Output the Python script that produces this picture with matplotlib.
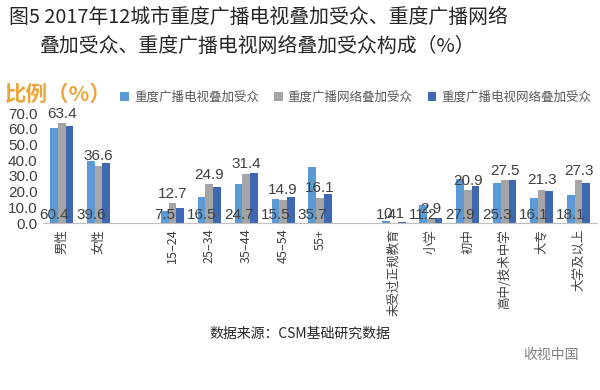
import numpy as np
import matplotlib
matplotlib.use("Agg")
import matplotlib.pyplot as plt

plt.rcParams['font.family'] = ['Noto Sans CJK SC', 'DejaVu Sans']

# categories, '' = gap slot between groups
cats = ['男性', '女性', '', '15–24', '25–34', '35–44', '45–54', '55+', '',
        '未受过正规教育', '小学', '初中', '高中/技术中学', '大专', '大学及以上']
series = ['重度广播电视叠加受众', '重度广播网络叠加受众', '重度广播电视网络叠加受众']
tv = [60.4, 39.6, np.nan, 7.5, 16.5, 24.7, 15.5, 35.7, np.nan,
      1.4, 11.2, 27.9, 25.3, 16.1, 18.1]
net = [63.4, 36.6, np.nan, 12.7, 24.9, 31.4, 14.9, 16.1, np.nan,
       0.1, 2.9, 20.9, 27.5, 21.3, 27.3]
tvnet = [62.0, 38.0, np.nan, 9.8, 23.1, 32.0, 16.3, 18.8, np.nan,
         0.4, 3.0, 23.5, 27.6, 20.5, 25.2]
colors = ['#5B9BD5', '#A5A5A5', '#3F68B3']
num_font = ['Liberation Sans', 'DejaVu Sans']

fig = plt.figure(figsize=(6, 3.9), dpi=100)
ax = fig.add_axes([0.072, 0.428, 0.923, 0.282])

x = np.arange(len(cats))
w = 0.21
for i, (vals, c) in enumerate(zip([tv, net, tvnet], colors)):
    ax.bar(x + (i - 1) * w, vals, w, color=c, label=series[i])

for xi, v in zip(x, tv):
    if not np.isnan(v):
        ax.text(xi - w, 0.6, f'{v:.1f}', ha='center', va='bottom',
                fontsize=11, color='#404040', family=num_font)
for xi, v in zip(x, net):
    if not np.isnan(v):
        ax.text(xi, v + 1.5, f'{v:.1f}', ha='center', va='bottom',
                fontsize=11, color='#404040', family=num_font)

ax.set_xlim(-0.5, len(cats) - 0.5)
ax.set_ylim(0, 70)
ax.set_yticks(range(0, 71, 10))
ax.set_yticklabels([f'{t:.1f}' for t in range(0, 71, 10)], fontsize=11,
                   color='#404040', family=num_font)
ax.set_xticks(x)
ax.set_xticklabels(cats, rotation=90, fontsize=9, color='#404040')
ax.tick_params(length=0, pad=4)
for s in ['top', 'right', 'left']:
    ax.spines[s].set_visible(False)
ax.spines['bottom'].set_color('#BFBFBF')

fig.text(0.43, 0.955, '图5 2017年12城市重度广播电视叠加受众、重度广播网络',
         ha='center', va='center', fontsize=14.3, color='#262626')
fig.text(0.43, 0.88, '叠加受众、重度广播电视网络叠加受众构成（%）',
         ha='center', va='center', fontsize=14.3, color='#262626')
fig.text(0.008, 0.757, '比例（%）', ha='left', va='center', fontsize=15.5,
         color='#EBA53C', fontweight='bold')

ax.legend(loc='lower left', bbox_to_anchor=(0.13, 1.04), ncol=3, frameon=False,
          fontsize=9, handlelength=0.7, handleheight=0.7, handletextpad=0.4,
          columnspacing=1.2, labelcolor='#595959', borderaxespad=0)

fig.text(0.5, 0.145, '数据来源：CSM基础研究数据', ha='center', va='center',
         fontsize=10, color='#262626')
fig.text(0.965, 0.09, '收视中国', ha='right', va='center', fontsize=10,
         color='#7F7F7F')

fig.savefig('out.png', dpi=100)
